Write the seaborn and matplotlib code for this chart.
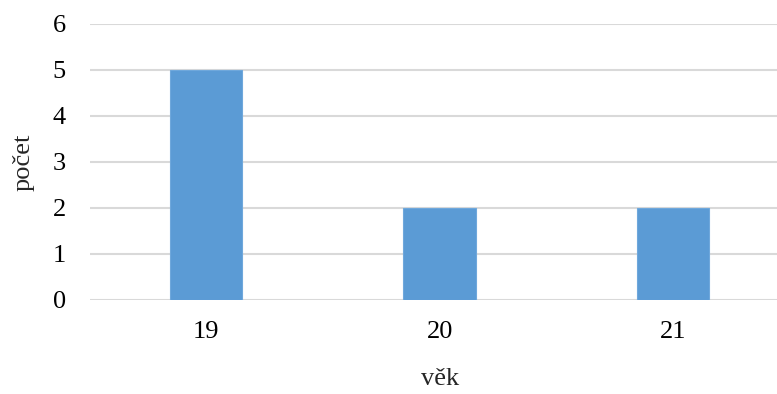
import matplotlib
matplotlib.use("Agg")
import matplotlib.pyplot as plt
import seaborn as sns
import pandas as pd

ages = ["19", "20", "21"]
counts = [5, 2, 2]
y_ticks = [0, 1, 2, 3, 4, 5, 6]

sns.set_theme(style="white")
plt.rcParams["font.family"] = ["Liberation Serif", "DejaVu Serif"]

df = pd.DataFrame({"věk": ages, "počet": counts})

fig = plt.figure(figsize=(7.77, 3.94), dpi=100)
ax = fig.add_axes([89.6 / 777, 94 / 394, 700 / 777, 276 / 394])

ax.yaxis.grid(True, color="#d9d9d9", linewidth=1.5)
ax.set_axisbelow(True)

sns.barplot(data=df, x="věk", y="počet", color="#5b9bd5", width=0.31,
            saturation=1, edgecolor="#6fa8dc", linewidth=0.8, ax=ax)

ax.set_ylim(0, 6)
ax.set_yticks(y_ticks)
ax.set_xlim(-0.5, 2.5)
for s in ax.spines.values():
    s.set_visible(False)
ax.tick_params(axis="both", length=0, labelsize=19, colors="#000000")
ax.tick_params(axis="y", pad=17)
ax.tick_params(axis="x", pad=15)
ax.set_xlabel("věk", fontsize=19, labelpad=18)
ax.set_ylabel("počet", fontsize=19, labelpad=13)

fig.savefig("out.png", dpi=100)
